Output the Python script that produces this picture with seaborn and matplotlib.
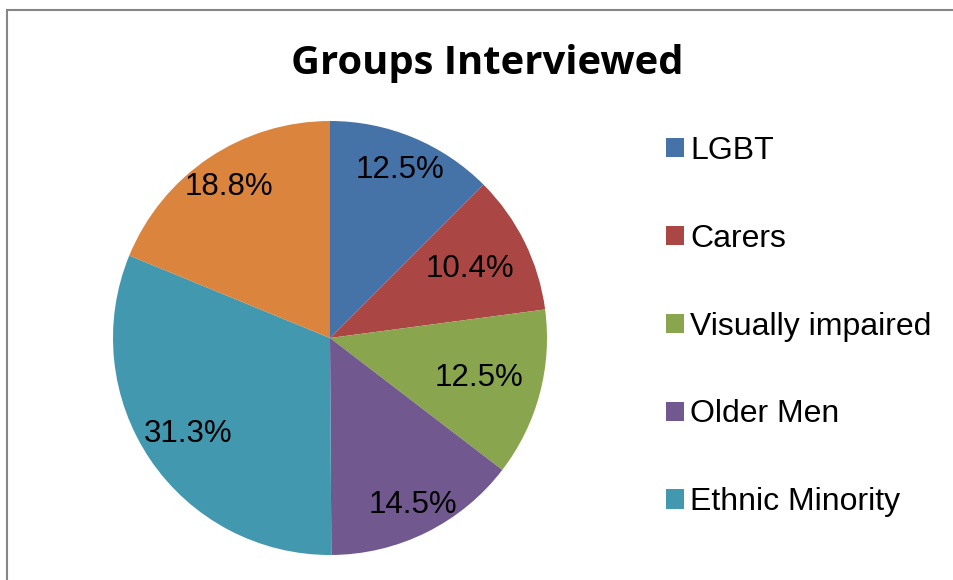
import seaborn as sns
import numpy as np
import matplotlib.pyplot as plt
from matplotlib.patches import Rectangle

# data
groups = ["LGBT", "Carers", "Visually impaired", "Older Men", "Ethnic Minority", "Other"]
shares = [12.5, 10.4, 12.5, 14.5, 31.3, 18.8]
legend_groups = groups[:5]  # the legend in the picture only shows five entries

colors = ["#4572A7", "#AA4643", "#89A54E", "#71588F", "#4198AF", "#DB843D"]
# Excel-like "best fit" label placement, as a fraction of the radius
label_dist = [0.84, 0.72, 0.71, 0.86, 0.79, 0.84]

sns.set_theme(style="white")
plt.rcParams['font.family'] = ['Liberation Sans', 'DejaVu Sans']
plt.rcParams['text.color'] = 'black'

W, H = 954, 580
fig = plt.figure(figsize=(W / 100, H / 100), dpi=100)

## pie axes: centre (330, 338), radius 217 px
cx, cy, r = 330, 338, 217
ax = fig.add_axes([(cx - r) / W, (H - cy - r) / H, 2 * r / W, 2 * r / H])
pal = sns.color_palette(colors)
wedges, texts, autotexts = ax.pie(shares, colors=pal, startangle=90, counterclock=False,
                                  autopct="%.1f%%", pctdistance=0.8,
                                  wedgeprops=dict(linewidth=0),
                                  textprops=dict(fontsize=22.5, color="black"))
ax.set_xlim(-1, 1)
ax.set_ylim(-1, 1)

## move the percentage labels to where Excel put them
for w, t, d in zip(wedges, autotexts, label_dist):
    ang = np.deg2rad((w.theta1 + w.theta2) / 2)
    t.set_position((d * np.cos(ang), d * np.sin(ang)))
    t.set_ha("center")
    t.set_va("center")

## title
fig.text(487 / W, 1 - 74 / H, "Groups Interviewed", ha="center", va="baseline",
         fontsize=28.8, fontweight="bold", color="black",
         family=["Open Sans", "DejaVu Sans"])

## legend
leg = fig.legend(wedges[:5], legend_groups, loc="upper left",
                 bbox_to_anchor=(666 / W, 1 - 136 / H), frameon=False,
                 fontsize=23, handlelength=0.55, handleheight=0.55,
                 handletextpad=0.2, labelspacing=1.81, borderpad=0, borderaxespad=0)
for t in leg.get_texts():
    t.set_color("black")

## grey frame (only top and left visible in the crop)
fig.patches.append(Rectangle((7 / W, -0.1), 2, (1 - 10 / H) + 0.1, transform=fig.transFigure,
                             fill=False, edgecolor="#868686", linewidth=1.5))

fig.savefig("out.png", dpi=100)
